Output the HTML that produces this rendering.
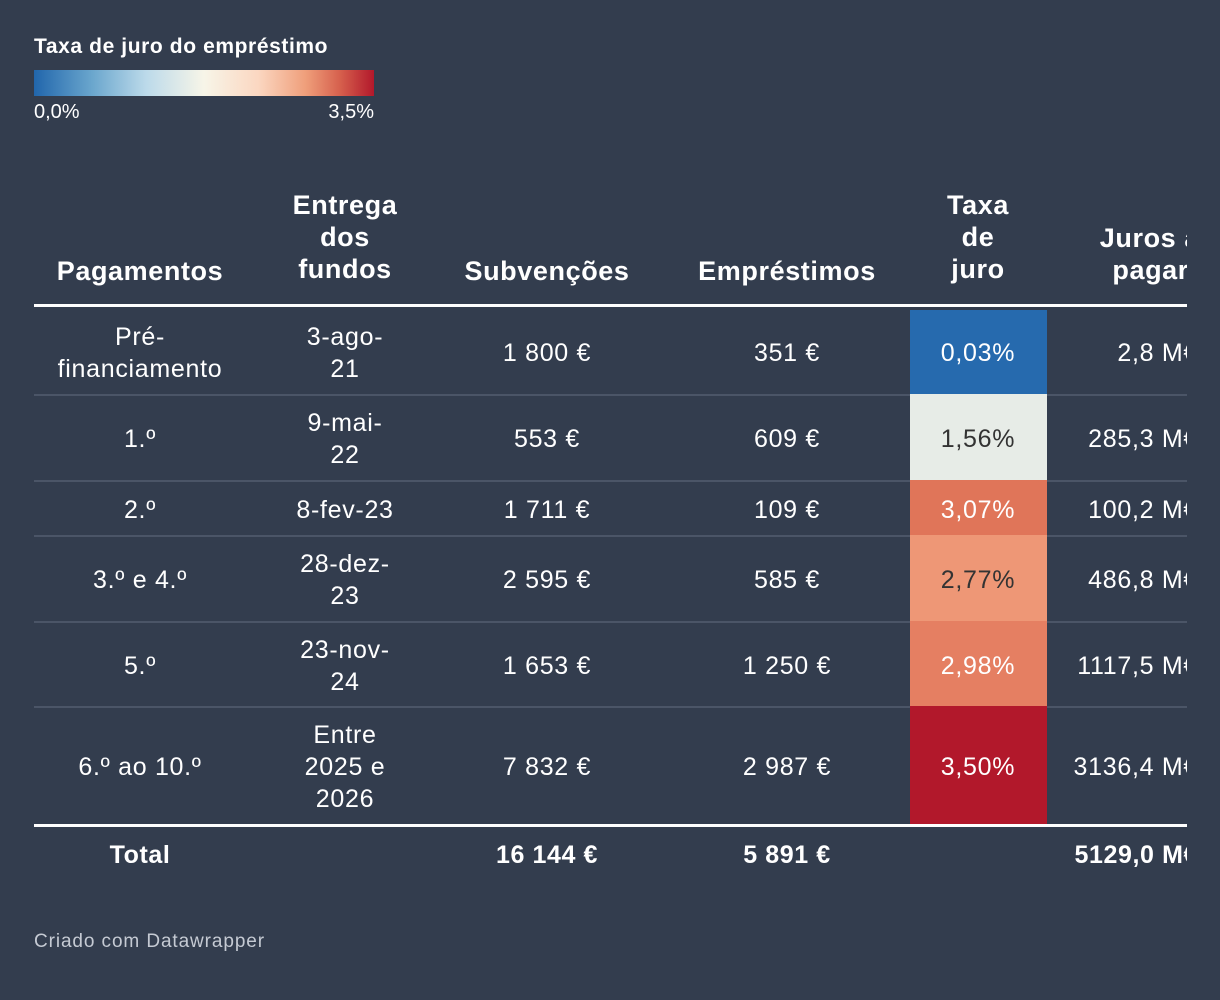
<!DOCTYPE html>
<html><head><meta charset="utf-8"><style>
html,body{margin:0;padding:0;background:#333d4e;}
body{width:1220px;height:1000px;position:relative;overflow:hidden;font-family:"Liberation Sans",sans-serif;color:#fff;}
.abs{position:absolute;}
.t{position:absolute;text-align:center;font-size:25px;letter-spacing:0.7px;line-height:32px;transform:translate(-50%,-50%);white-space:nowrap;}
.h{font-weight:bold;font-size:27px;letter-spacing:0.6px;line-height:32px;}
#clip{position:absolute;left:0;top:0;width:1187px;height:1000px;overflow:hidden;}
</style></head><body>
<div class="abs" style="left:34px;top:35px;font-size:21px;letter-spacing:0.6px;font-weight:bold;">Taxa de juro do empréstimo</div>
<div class="abs" style="left:34px;top:70px;width:340px;height:26px;background:linear-gradient(to right,#2166ac 0%,#6aa6cd 17%,#bcdaea 33%,#f7f5e8 50%,#fbd7c1 66%,#ef9e7a 80%,#d6604d 90%,#b2182b 100%);"></div>
<div class="abs" style="left:34px;top:101px;font-size:20px;">0,0%</div>
<div class="abs" style="left:374px;top:101px;font-size:20px;transform:translateX(-100%);">3,5%</div>
<div id="clip"></div>
<div class="abs" style="left:34px;top:931px;font-size:19px;letter-spacing:0.9px;color:#c5cad3;">Criado com Datawrapper</div>
<script>
const payments=["Pré-<br>financiamento","1.º","2.º","3.º e 4.º","5.º","6.º ao 10.º"];
const dates=["3-ago-<br>21","9-mai-<br>22","8-fev-23","28-dez-<br>23","23-nov-<br>24","Entre<br>2025 e<br>2026"];
const grants=["1 800 €","553 €","1 711 €","2 595 €","1 653 €","7 832 €"];
const loans=["351 €","609 €","109 €","585 €","1 250 €","2 987 €"];
const rates=[0.03,1.56,3.07,2.77,2.98,3.50];
const interest=["2,8 M€","285,3 M€","100,2 M€","486,8 M€","1117,5 M€","3136,4 M€"];
const totals=["Total","","16 144 €","5 891 €","","5129,0 M€"];
const rowBounds=[308,394,480,535,621,706,824];
const clip=document.getElementById('clip');
const cx=[140,345,547,787,978];
const jurosRight=1198;
function lerp(a,b,t){return a.map((v,i)=>Math.round(v+(b[i]-v)*t));}
const stops=[[0,[33,102,172]],[0.25,[175,208,226]],[0.5,[247,244,232]],[0.75,[245,168,132]],[0.88,[224,116,88]],[1,[178,24,43]]];
function color(v){const t=Math.max(0,Math.min(1,v/3.5));for(let i=1;i<stops.length;i++){if(t<=stops[i][0]){const a=stops[i-1],b=stops[i];const c=lerp(a[1],b[1],(t-a[0])/(b[0]-a[0]));return 'rgb('+c.join(',')+')';}}return 'rgb(178,24,43)';}
function lum(v){return v>1.0&&v<2.85;}
function add(html,x,y,cls,name,extra){const d=document.createElement('div');d.className='t '+(cls||'');d.innerHTML=html;d.style.left=x+'px';d.style.top=y+'px';if(extra)Object.assign(d.style,extra);


clip.appendChild(d);return d;}
add('Pagamentos',cx[0],271,'h','header-pagamentos');
add('Entrega<br>dos<br>fundos',cx[1],237,'h','header-entrega');
add('Subvenções',cx[2],271,'h','header-subvencoes');
add('Empréstimos',cx[3],271,'h','header-emprestimos');
add('Taxa<br>de<br>juro',cx[4],237,'h','header-taxa');
add('Juros a<br>pagar*',jurosRight+2,254,'h','header-juros',{transform:'translate(-100%,-50%)',textAlign:'right'});
function line(y,h,c,name){const d=document.createElement('div');d.className='abs';d.style.cssText='left:34px;width:1160px;top:'+y+'px;height:'+h+'px;background:'+c;


clip.appendChild(d);}
line(304,3,'#fff','header-rule');
for(let i=0;i<payments.length;i++){
 const y0=rowBounds[i]+(i==0?2:0),y1=rowBounds[i+1];const cy=(rowBounds[i]+y1)/2+2;
 const cell=document.createElement('div');cell.className='abs';cell.style.cssText='left:910px;width:137px;top:'+y0+'px;height:'+(y1-y0)+'px;background:'+color(rates[i]);
 
 
 clip.appendChild(cell);
 add(payments[i],cx[0],cy,'','payment-label');
 add(dates[i],cx[1],cy,'','delivery-date');
 add(grants[i],cx[2],cy,'','grant-value');
 add(loans[i],cx[3],cy,'','loan-value');
 add(rates[i].toFixed(2).replace('.',',')+'%',cx[4],cy,'','rate-value',{color:lum(rates[i])?'#333':'#fff'});
 add(interest[i],jurosRight,cy,'','interest-value',{transform:'translate(-100%,-50%)'});
 if(i<payments.length-1)line(y1,2,'#4b5567','row-separator');
}
line(824,3,'#fff','total-rule');
const ty=855;
add(totals[0],cx[0],ty,'h','total-label',{fontSize:'25px'});
add(totals[2],cx[2],ty,'h','total-grants',{fontSize:'25px'});
add(totals[3],cx[3],ty,'h','total-loans',{fontSize:'25px'});
add(totals[5],jurosRight,ty,'h','total-interest',{fontSize:'25px',transform:'translate(-100%,-50%)'});
</script>
</body></html>
